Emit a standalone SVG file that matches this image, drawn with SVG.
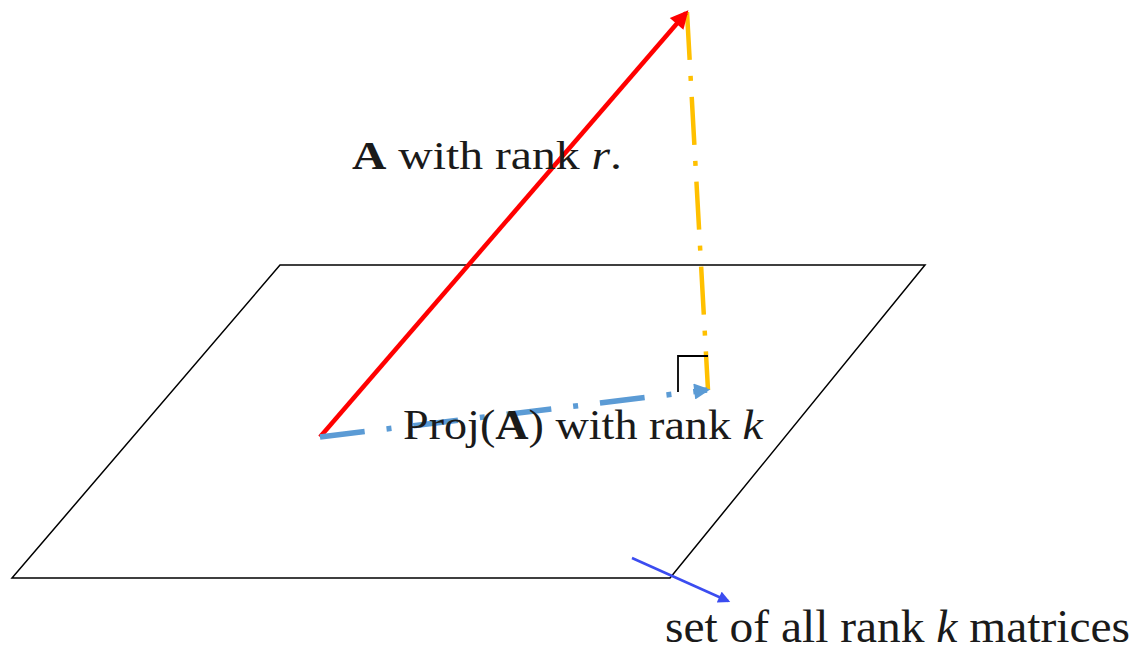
<svg xmlns="http://www.w3.org/2000/svg" width="1141" height="650" viewBox="0 0 1141 650">
<style>
.t{font-family:"Liberation Serif","Times New Roman",serif;fill:#1a1a1a}
.b{font-weight:bold}
.i{font-style:italic}
</style>
<defs>
<marker id="mb" viewBox="0 0 10 10" refX="8" refY="5" markerWidth="22" markerHeight="16" orient="auto" markerUnits="userSpaceOnUse"><path d="M0,0 L10,5 L0,10 z" fill="#5B9BD5"/></marker>
<marker id="mn" viewBox="0 0 10 10" refX="8" refY="5" markerWidth="14" markerHeight="12" orient="auto" markerUnits="userSpaceOnUse"><path d="M0,0 L10,5 L0,10 z" fill="#3B4CF0"/></marker>
<marker id="mr2" viewBox="0 0 10 10" refX="8" refY="5" markerWidth="20" markerHeight="18" orient="auto" markerUnits="userSpaceOnUse"><path d="M0,0 L10,5 L0,10 z" fill="#FF0000"/></marker>
</defs>
<g id="plane"><polygon points="280,265 925,265 670,578 12,578" fill="none" stroke="#000" stroke-width="1.5"/></g>
<g id="connectors">
<line x1="687" y1="12" x2="708" y2="390" stroke="#FFC000" stroke-width="4.5" stroke-dasharray="48 16 5 16"/>
<polyline points="678,392 678,356 708,356" fill="none" stroke="#000" stroke-width="1.8"/>
<line x1="320" y1="437" x2="686" y2="13" stroke="#FF0000" stroke-width="4.5" marker-end="url(#mr2)"/>
<line x1="320" y1="437" x2="707" y2="390" stroke="#5B9BD5" stroke-width="5.5" stroke-dasharray="45 22 5 22" marker-end="url(#mb)"/>
<line x1="632" y1="558" x2="728" y2="601" stroke="#3B4CF0" stroke-width="2.5" marker-end="url(#mn)"/>
</g>
<g id="label-A"><text class="t" x="352" y="169" font-size="41" textLength="270" lengthAdjust="spacingAndGlyphs"><tspan class="b">A</tspan> with rank <tspan class="i">r</tspan>.</text></g>
<g id="label-proj"><text class="t" x="403" y="439" font-size="43" textLength="360" lengthAdjust="spacingAndGlyphs">Proj(<tspan class="b">A</tspan>) with rank <tspan class="i">k</tspan></text></g>
<g id="label-set"><text class="t" x="665" y="642" font-size="46" textLength="465" lengthAdjust="spacingAndGlyphs">set of all rank <tspan class="i">k</tspan>  matrices</text></g>
</svg>
